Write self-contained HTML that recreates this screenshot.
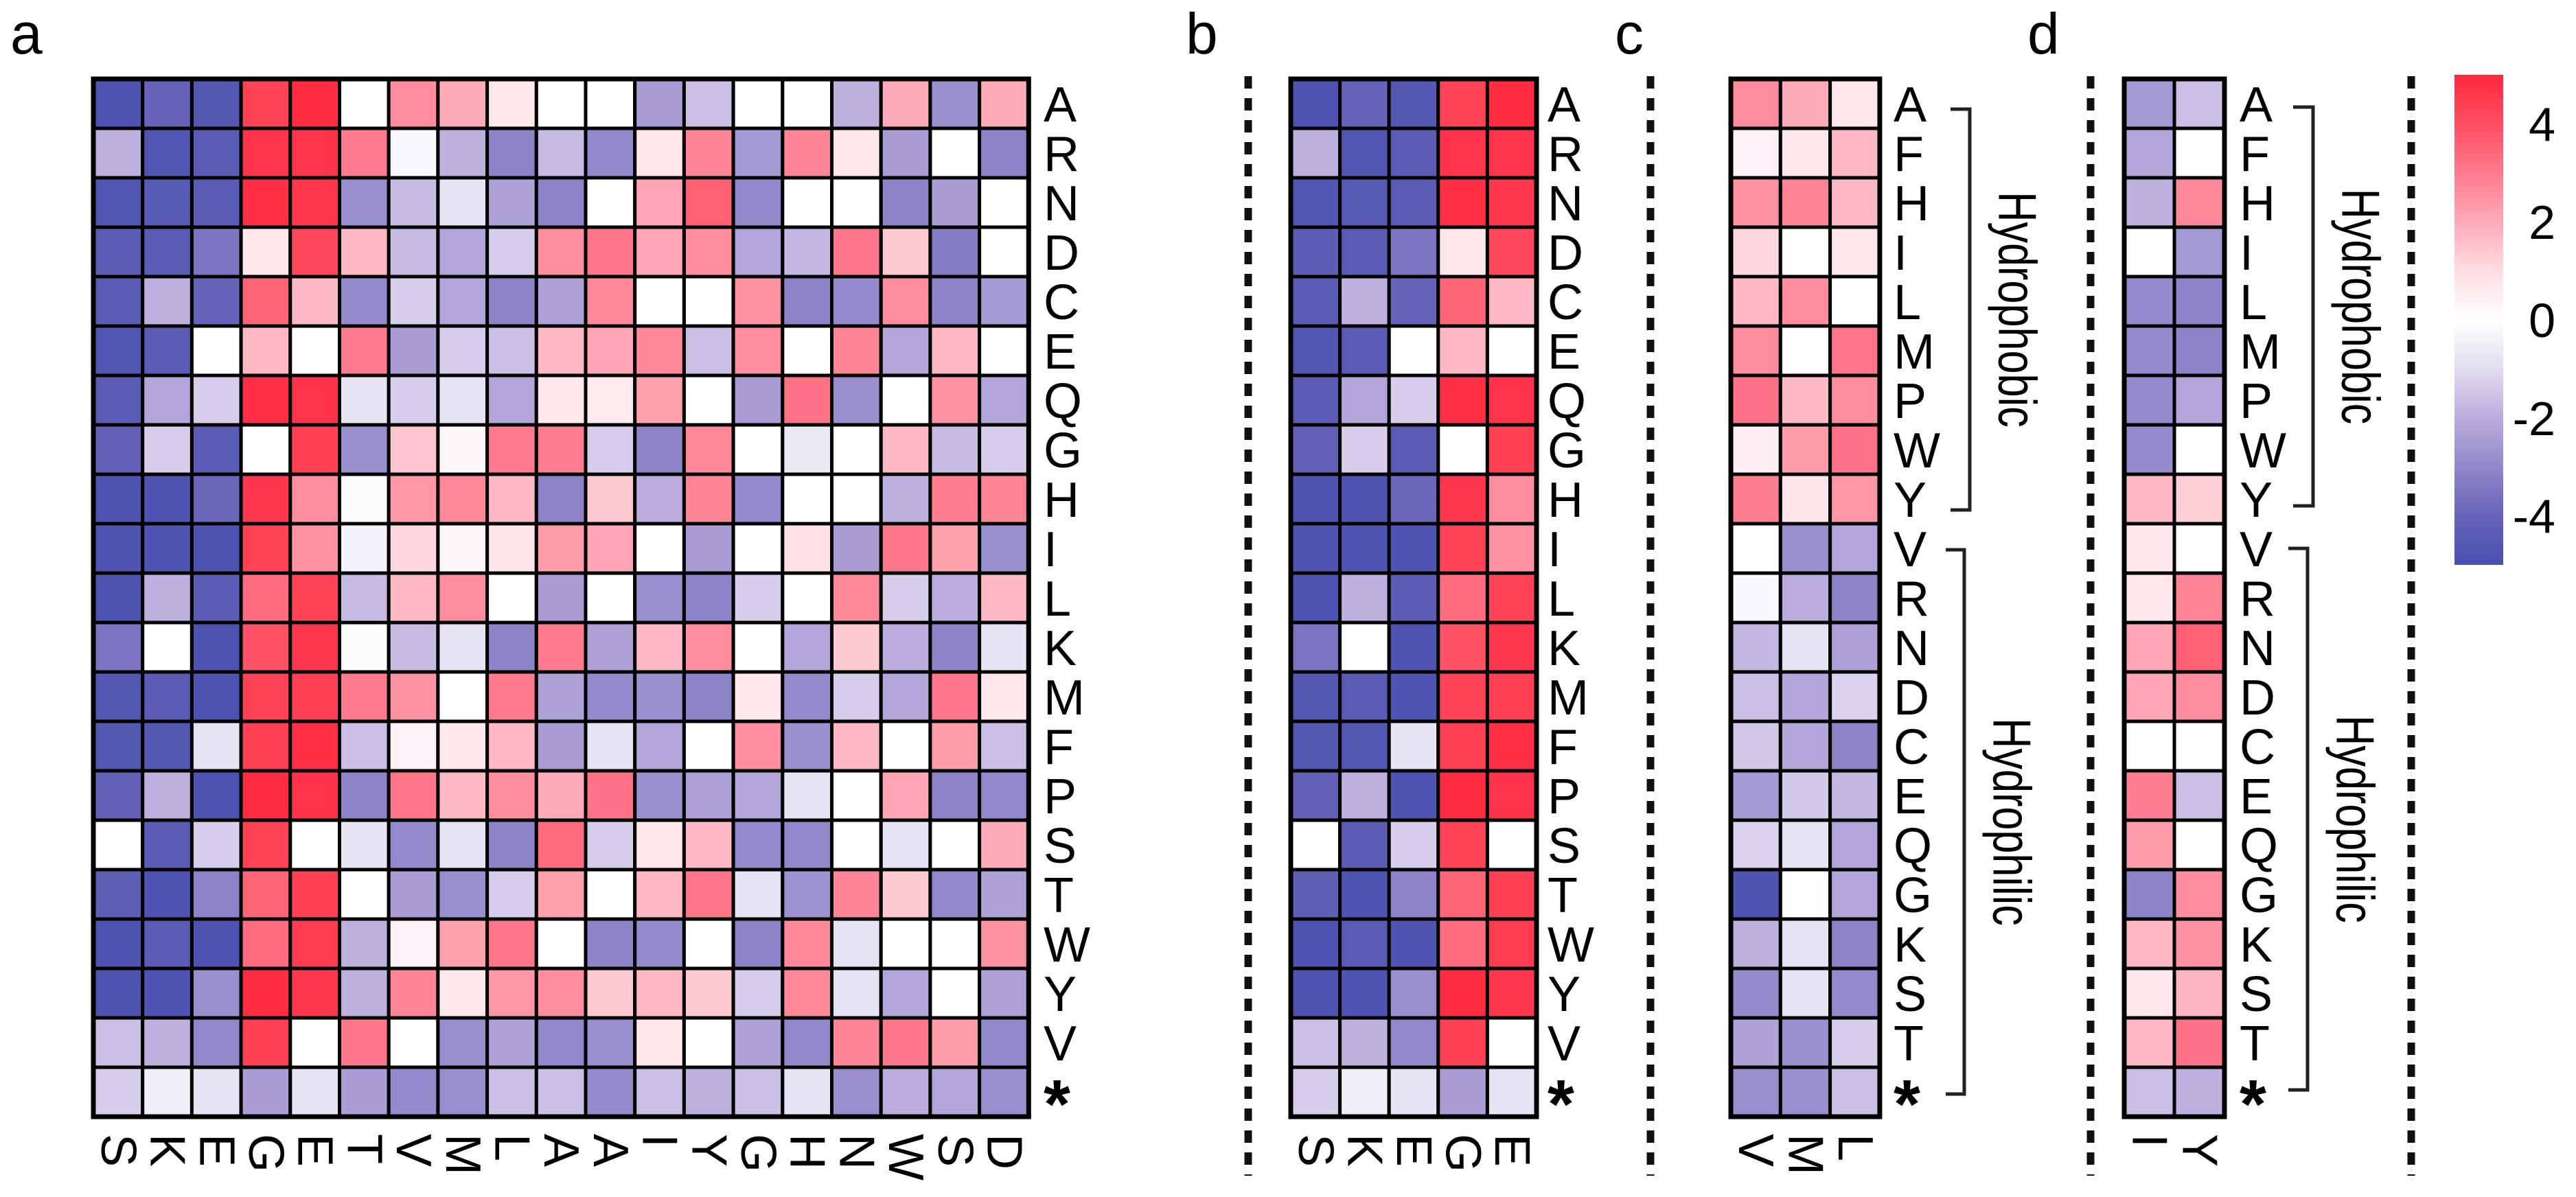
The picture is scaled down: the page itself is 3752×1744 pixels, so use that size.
<!DOCTYPE html>
<html><head><meta charset="utf-8"><style>
html,body{margin:0;padding:0;background:#fff;}
svg{display:block;font-family:"Liberation Sans",sans-serif;}
</style></head><body>
<svg id="fig" width="3752" height="1744" viewBox="0 0 3752 1744" xmlns="http://www.w3.org/2000/svg">
<rect width="3752" height="1744" fill="#fff"/>
<g id="root"></g>
</svg>
<script>
const rowsA = ["A","R","N","D","C","E","Q","G","H","I","L","K","M","F","P","S","T","W","Y","V","*"];
const colsA = ["S","K","E","G","E","T","V","M","L","A","A","I","Y","G","H","N","W","S","D"];
const valsA = [
[-4.8,-4.0,-4.6,4.3,4.9,0,2.6,2.0,0.7,0,0,-2.4,-1.6,0,0,-1.9,2.0,-2.8,2.0],
[-1.9,-4.7,-4.4,4.7,4.7,3.0,-0.2,-1.9,-3.1,-1.7,-3.0,0.7,2.8,-2.5,2.8,0.7,-2.4,0,-3.1],
[-4.7,-4.5,-4.4,4.8,4.6,-2.8,-1.7,-0.8,-2.3,-3.1,0,2.1,3.6,-3.0,0,0,-3.1,-2.4,0],
[-4.3,-4.4,-3.5,0.7,4.2,1.7,-1.7,-2.2,-1.3,2.6,3.1,2.1,2.6,-2.2,-1.8,3.1,1.4,-3.3,0],
[-4.4,-1.9,-4.0,3.5,1.7,-2.9,-1.3,-2.2,-3.1,-2.3,2.7,0,0,2.5,-3.1,-2.9,2.6,-3.1,-2.5],
[-4.7,-4.4,0,1.7,0,3.0,-2.4,-1.3,-1.6,1.7,2.1,2.7,-1.6,2.6,0,2.8,-2.2,1.7,0],
[-4.4,-2.2,-1.3,4.8,4.7,-0.8,-1.3,-0.8,-2.2,0.7,0.6,2.2,0,-2.4,3.2,-2.8,0,2.5,-2.2],
[-4.1,-1.3,-4.4,0,4.4,-2.8,1.5,0.2,3.0,2.9,-1.3,-3.1,2.7,0,-0.7,0,1.7,-1.7,-1.3],
[-4.8,-4.8,-3.9,4.6,2.6,-0.1,2.4,2.7,1.7,-3.1,1.4,-2.0,2.8,-2.9,0,0,-1.9,2.9,2.8],
[-4.8,-4.8,-4.8,4.3,2.5,-0.4,1.1,0.2,0.8,2.3,2.1,0,-2.4,0,0.9,-2.4,3.1,2.2,-2.8],
[-4.8,-1.9,-4.3,3.3,4.3,-1.7,1.7,2.6,0,-2.4,0,-2.8,-3.1,-1.3,0,2.7,-1.3,-2.0,1.7],
[-3.5,0,-4.8,3.9,4.6,-0.1,-1.7,-0.8,-3.1,3.0,-2.3,1.7,2.6,0,-2.2,1.4,-2.0,-3.1,-0.8],
[-4.6,-4.4,-4.8,4.3,4.4,3.0,2.5,0,3.0,-2.3,-2.9,-2.8,-3.1,0.7,-2.9,-1.3,-2.2,3.1,0.7],
[-4.6,-4.6,-0.8,4.4,4.8,-1.6,0.4,0.7,1.7,-2.4,-0.8,-2.2,0,2.6,-2.8,1.7,0,2.3,-1.6],
[-4.1,-1.9,-4.8,4.9,4.7,-3.1,3.1,1.7,2.6,2.0,3.2,-2.8,-2.3,-2.2,-0.8,0,2.1,-3.1,-3.0],
[0,-4.3,-1.3,4.3,0,-0.8,-2.9,-0.8,-3.1,3.3,-1.3,0.7,1.7,-2.9,-3.0,0,-0.8,0,2.0],
[-4.2,-4.8,-3.1,3.5,4.4,0,-2.4,-2.8,-1.3,2.2,0,1.7,3.1,-0.8,-2.7,2.8,1.4,-3.0,-2.3],
[-4.8,-4.4,-4.8,3.3,4.5,-1.9,0.4,2.2,3.1,0,-3.1,-2.9,0,-3.1,2.7,-0.8,0,0,2.5],
[-4.8,-4.8,-2.8,4.9,4.6,-1.9,2.8,0.7,2.4,2.6,1.4,1.7,1.4,-1.3,2.7,-0.8,-2.2,0,-2.3],
[-1.6,-1.9,-3.0,4.4,0,3.1,0,-2.8,-2.3,-3.0,-2.8,0.7,0,-2.3,-3.0,2.8,3.1,2.3,-3.0],
[-1.3,-0.5,-0.8,-2.4,-0.8,-2.4,-2.9,-2.8,-1.6,-1.6,-2.9,-1.6,-1.9,-1.6,-0.8,-2.8,-2.0,-2.2,-2.8]
];
const colsB = ["S","K","E","G","E"];
const rowsC = ["A","F","H","I","L","M","P","W","Y","V","R","N","D","C","E","Q","G","K","S","T","*"];
const colsC = ["V","M","L"];
const valsC = [
[2.6,2.0,0.7],[0.4,0.7,1.7],[2.5,2.8,1.7],[1.1,0.1,0.7],[1.7,2.6,0],[2.6,0,3.1],[3.2,1.7,2.6],[0.5,2.3,3.2],[2.9,0.8,2.4],
[0,-2.8,-2.2],[-0.2,-2.0,-3.1],[-1.8,-0.8,-2.3],[-1.6,-2.2,-1.2],[-1.4,-2.2,-3.1],[-2.5,-1.4,-1.8],[-1.2,-0.8,-2.2],[-4.8,0.1,-2.2],[-1.9,-0.8,-3.1],[-2.9,-0.8,-2.9],[-2.3,-2.8,-1.3],[-2.8,-2.8,-1.6]
];
const colsD = ["I","Y"];
const valsD = [
[-2.5,-1.6],[-2.2,0],[-1.9,2.7],[0,-2.5],[-2.9,-3.1],[-2.9,-3.1],[-2.9,-2.2],[-2.9,0],[1.7,1.3],
[0.7,0],[0.7,2.8],[2.1,3.6],[2.1,2.6],[0,0],[2.9,-1.6],[2.3,0],[-3.1,2.6],[1.7,2.5],[0.7,1.8],[1.7,3.2],[-1.6,-1.9]
];
const legendTicks = [4,2,0,-2,-4];

const NS="http://www.w3.org/2000/svg";
const root=document.getElementById('root');
function mk(tag,attrs,parent){const e=document.createElementNS(NS,tag);for(const k in attrs)e.setAttribute(k,attrs[k]);(parent||root).appendChild(e);return e;}
const STOPS=[[-5,[72,80,176]],[-4,[102,99,184]],[-3,[145,135,202]],[-2,[187,172,221]],[-1,[226,220,240]],[0,[255,255,255]],
 [1,[255,221,227]],[2,[255,170,184]],[3,[255,122,140]],[4,[255,78,98]],[5,[255,40,62]]];
function color(v){v=Math.max(-5,Math.min(5,v));
 for(let i=0;i<STOPS.length-1;i++){const [a,ca]=STOPS[i],[b,cb]=STOPS[i+1];
  if(v>=a&&v<=b){const t=(v-a)/(b-a);return `rgb(${Math.round(ca[0]+(cb[0]-ca[0])*t)},${Math.round(ca[1]+(cb[1]-ca[1])*t)},${Math.round(ca[2]+(cb[2]-ca[2])*t)})`;}}
 return '#fff';}
const TOP=115,CH=72;
function yRow(i){return TOP+i*CH;}

function heatmap(name,x0,cw,rows,cols,vals,labelX){
 const g=mk('g',{});
 
 
 for(let i=0;i<rows.length;i++){for(let j=0;j<cols.length;j++){
  const r=mk('rect',{x:x0+j*cw,y:yRow(i),width:cw,height:CH,fill:color(vals[i][j]),stroke:'#000','stroke-width':5},g);
  
  
 }}
 const b=mk('rect',{x:x0,y:TOP,width:cw*cols.length,height:CH*rows.length,fill:'none',stroke:'#000','stroke-width':7},g);
 
 
 for(let i=0;i<rows.length;i++){
  const star=rows[i]==='*';
  const t=mk('text',{x:labelX,y:yRow(i)+CH/2+(star?52:26),'font-size':star?100:72,'font-weight':star?'bold':'normal',fill:'#000'},g);t.textContent=rows[i];
  
  
 }
 for(let j=0;j<cols.length;j++){
  const cx=x0+(j+0.5)*cw;
  const t=mk('text',{transform:`translate(${cx},1652) rotate(90)`,'font-size':72,'dominant-baseline':'central',fill:'#000'},g);t.textContent=cols[j];
  
  
 }
}
const rowsB=rowsA;
const valsB=valsA.map(r=>r.slice(0,5));
heatmap('heatmap-a',136,71.7,rowsA,colsA,valsA,1520);
heatmap('heatmap-b',1880,71.6,rowsB,colsB,valsB,2254);
heatmap('heatmap-c',2521,72.3,rowsC,colsC,valsC,2758);
heatmap('heatmap-d',3094,73,rowsC,colsD,valsD,3262);

[['a',15],['b',1727],['c',2352],['d',2953]].forEach(([l,x])=>{
 const t=mk('text',{x:x,y:78,'font-size':84,fill:'#000'});t.textContent=l;
 
 
});
[1818,2404,3045,3512].forEach(x=>{
 const l=mk('line',{x1:x,y1:111,x2:x,y2:1713,stroke:'#111','stroke-width':11,'stroke-dasharray':'18 14'});
 
 
});
function bracket(x,tx,y1,y2,label){
 const p=mk('path',{d:`M${tx},${y1} H${x} V${y2} H${tx}`,fill:'none',stroke:'#222','stroke-width':5});
 
 
 const cy=(y1+y2)/2;
 const t=mk('text',{transform:`translate(${x+70},${cy}) rotate(90) scale(0.9,1.15)`,'font-size':68,'text-anchor':'middle','dominant-baseline':'central',fill:'#000'});
 t.textContent=label;
 
 
}
bracket(2869,2841,159,743,'Hydrophobic');
bracket(2861,2834,801,1594,'Hydrophilic');
bracket(3369,3340,156,737,'Hydrophobic');
bracket(3361,3333,799,1588,'Hydrophilic');
const defs=mk('defs',{});
const grad=mk('linearGradient',{id:'lg',x1:0,y1:0,x2:0,y2:1},defs);
for(let i=0;i<=10;i++){mk('stop',{offset:(i/10),'stop-color':color(5-i)},grad);}
const LT=109,LB=823;
function yLeg(v){return LT+(5-v)/10*(LB-LT);}
const lr=mk('rect',{x:3575,y:LT,width:71,height:LB-LT,fill:'url(#lg)'});


legendTicks.forEach(v=>{
 const t=mk('text',{x:3722,y:yLeg(v)+25,'font-size':70,'text-anchor':'end',fill:'#000'});
 t.textContent=v<0?'-'+Math.abs(v):String(v);
 
 
});
</script>
</body></html>
